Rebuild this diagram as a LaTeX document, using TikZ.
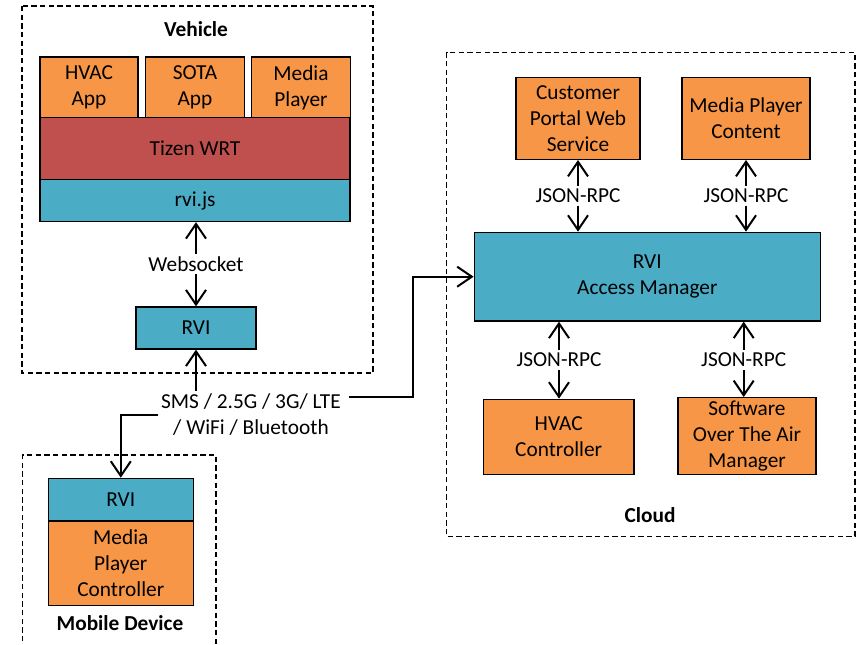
\documentclass[tikz,border=0pt]{standalone}
\usepackage{fontspec}
\setmainfont{Carlito}
\usetikzlibrary{arrows.meta}

\definecolor{apporange}{HTML}{F79646}
\definecolor{wrtred}{HTML}{C0504D}
\definecolor{rviblue}{HTML}{4BACC6}

\tikzset{
	txt/.style={font=\fontsize{16}{19.5}\selectfont, align=center, inner sep=2pt},
	blk/.style={txt, draw=black, line width=1pt},
	orangeblk/.style={blk, fill=apporange},
	redblk/.style={blk, fill=wrtred},
	blueblk/.style={blk, fill=rviblue},
	zone/.style={line width=0.8pt, dash pattern=on 4pt off 2.5pt},
	title/.style={txt, font=\fontsize{16}{19.5}\selectfont\bfseries},
	link/.style={line width=1.5pt, -{Straight Barb[length=11pt,width=15pt]}},
}

\begin{document}
\begin{tikzpicture}[x=0.75pt,y=-0.75pt]
	
	\useasboundingbox (0,0) rectangle (856,645);
	
	% vehicle
	\draw[zone] (22,6) rectangle (373,373);
	\node[title] (vehicle) at (196,29) {Vehicle};
	
	\node[orangeblk, minimum width=73.5pt, minimum height=45.75pt] (hvacapp) at (89,87.5) {HVAC\\App};
	\node[orangeblk, minimum width=74pt, minimum height=45.75pt] (sotaapp) at (195,87.5) {SOTA\\App};
	\node[orangeblk, minimum width=74pt, minimum height=45.75pt] (mediaplayer) at (301,87.5) {Media\\Player};
	\node[redblk, minimum width=232.5pt, minimum height=46.5pt] (tizen) at (195,148.5) {Tizen WRT};
	\node[blueblk, minimum width=232.5pt, minimum height=31.5pt] (rvijs) at (195,200.5) {rvi.js};
	
	\node[txt] (websocket) at (196,264) {Websocket};
	\node[blueblk, minimum width=90pt, minimum height=31.5pt] (vrvi) at (196,328) {RVI};
	
	\draw[link] (websocket) -- (websocket |- rvijs.south);
	\draw[link] (websocket) -- (vrvi);
	
	% network
	\node[txt] (network) at (251,414.7) {SMS / 2.5G / 3G/ LTE\\/ WiFi / Bluetooth};
	\coordinate (lteend) at (349,397);
	\coordinate (bend) at (413,276.7);
	
	% cloud
	\draw[zone] (446.7,52.3) rectangle (855,536.7);
	\node[title] (cloud) at (650,515) {Cloud};
	
	\node[orangeblk, minimum width=92.8pt, minimum height=61.2pt] (portal) at (578,118.5) {Customer\\Portal Web\\Service};
	\node[orangeblk, minimum width=96.2pt, minimum height=61.2pt] (content) at (746,118.5) {Media Player\\Content};
	\node[blueblk, minimum width=259.5pt, minimum height=66.5pt] (access) at (647.3,276.7) {RVI\\Access Manager};
	\node[orangeblk, minimum width=113pt, minimum height=56.5pt] (hvacctrl) at (558.7,437) {HVAC\\Controller};
	\node[orangeblk, minimum width=103.7pt, minimum height=57.75pt] (sotamgr) at (747,436.2) {Software\\Over The Air\\Manager};
	
	\node[txt] (rpcportal) at (578,195.7) {JSON-RPC};
	\node[txt] (rpccontent) at (746,195.7) {JSON-RPC};
	\node[txt] (rpchvac) at (559,360) {JSON-RPC};
	\node[txt] (rpcsota) at (743.7,360) {JSON-RPC};
	
	\draw[link] (rpcportal) -- (rpcportal |- portal.south);
	\draw[link] (rpcportal) -- (rpcportal |- access.north);
	\draw[link] (rpccontent) -- (rpccontent |- content.south);
	\draw[link] (rpccontent) -- (rpccontent |- access.north);
	\draw[link] (rpchvac) -- (rpchvac |- access.south);
	\draw[link] (rpchvac) -- (rpchvac |- hvacctrl.north);
	\draw[link] (rpcsota) -- (rpcsota |- access.south);
	\draw[link] (rpcsota) -- (rpcsota |- sotamgr.north);
	
	% mobile device
	\draw[zone] (22.7,650) -- (22.7,455) -- (216,455) -- (216,650);
	\node[blueblk, minimum width=108.75pt, minimum height=32pt] (mrvi) at (120.8,499.7) {RVI};
	\node[orangeblk, minimum width=108.75pt, minimum height=63.2pt] (mpctrl) at (120.8,563.2) {Media\\Player\\Controller};
	\node[title] (mobile) at (120,623.3) {Mobile Device};
	
	\draw[link] (vrvi |- network.north) -- (vrvi.south);
	\draw[link] (network.west) -| (mrvi.north);
	\draw[link] (lteend) -| (bend) -- (access.west);
	
\end{tikzpicture}
\end{document}
